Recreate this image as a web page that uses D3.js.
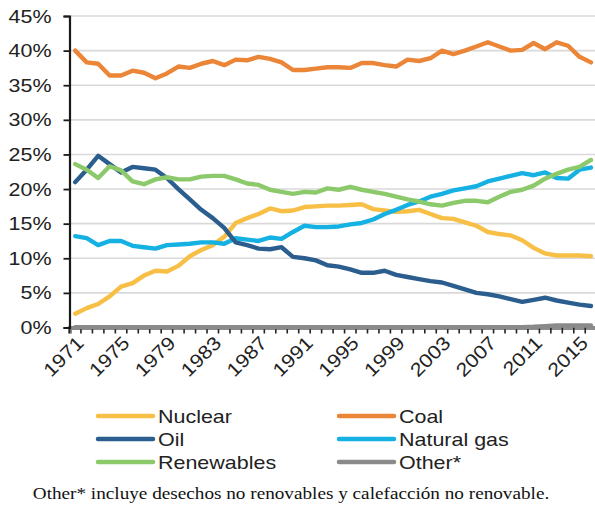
<!DOCTYPE html>
<html><head><meta charset="utf-8">
<script src="https://cdn.jsdelivr.net/npm/d3@7"></script>
<style>body{margin:0;background:#fff}svg{display:block}</style>
</head><body>
<svg id="c" width="595" height="505"></svg>
<script>
const years = [1971,1972,1973,1974,1975,1976,1977,1978,1979,1980,1981,1982,1983,1984,1985,1986,1987,1988,1989,1990,1991,1992,1993,1994,1995,1996,1997,1998,1999,2000,2001,2002,2003,2004,2005,2006,2007,2008,2009,2010,2011,2012,2013,2014,2015,2016];
const tickYears = [1971,1975,1979,1983,1987,1991,1995,1999,2003,2007,2011,2015];
const yTicks = [0,5,10,15,20,25,30,35,40,45];
const nuclear = [2.0,2.8,3.4,4.5,5.9,6.4,7.5,8.2,8.1,8.9,10.3,11.2,11.9,13.1,15.1,15.8,16.4,17.2,16.8,16.9,17.4,17.5,17.6,17.6,17.7,17.8,17.1,16.9,16.7,16.8,17.0,16.4,15.8,15.7,15.2,14.7,13.8,13.5,13.3,12.6,11.5,10.7,10.4,10.4,10.4,10.3];
const coal = [40.0,38.3,38.1,36.4,36.4,37.1,36.8,36.0,36.7,37.7,37.5,38.1,38.5,37.9,38.7,38.6,39.1,38.8,38.3,37.2,37.2,37.4,37.6,37.6,37.5,38.2,38.2,37.9,37.7,38.7,38.5,38.9,40.0,39.5,40.0,40.6,41.2,40.6,40.0,40.1,41.1,40.2,41.2,40.7,39.1,38.3];
const oil = [21.0,22.8,24.8,23.6,22.4,23.2,23.0,22.8,21.6,20.0,18.5,17.0,15.8,14.4,12.3,11.9,11.4,11.3,11.6,10.2,10.0,9.7,9.0,8.8,8.4,7.9,7.9,8.2,7.6,7.3,7.0,6.7,6.5,6.0,5.5,5.0,4.8,4.5,4.1,3.7,4.0,4.3,3.9,3.6,3.3,3.1];
const naturalGas = [13.2,12.9,11.9,12.5,12.5,11.8,11.6,11.4,11.9,12.0,12.1,12.3,12.3,12.1,12.9,12.7,12.5,13.0,12.8,13.8,14.7,14.5,14.5,14.6,14.9,15.1,15.6,16.4,17.0,17.7,18.2,18.9,19.3,19.8,20.1,20.4,21.1,21.5,21.9,22.3,22.0,22.4,21.6,21.5,22.8,23.1];
const renewables = [23.6,22.8,21.6,23.3,22.7,21.1,20.7,21.4,21.7,21.4,21.4,21.8,21.9,21.9,21.4,20.8,20.6,19.9,19.6,19.3,19.6,19.5,20.1,19.9,20.3,19.9,19.6,19.3,18.9,18.5,18.2,17.8,17.6,18.0,18.3,18.3,18.1,18.9,19.6,19.9,20.5,21.5,22.2,22.8,23.2,24.2];
const other = [0.05,0.05,0.05,0.05,0.05,0.05,0.05,0.05,0.05,0.05,0.05,0.05,0.05,0.05,0.05,0.05,0.05,0.05,0.05,0.05,0.05,0.05,0.05,0.05,0.05,0.05,0.05,0.05,0.05,0.05,0.05,0.05,0.05,0.05,0.05,0.05,0.05,0.05,0.05,0.05,0.1,0.2,0.3,0.3,0.3,0.3];
const seriesNames = ["Nuclear","Coal","Oil","Natural gas","Renewables","Other*"];
const seriesColors = ["#F7BF45","#EB8538","#2B5E8E","#14B1E2","#8CC96B","#8A8A8A"];
const seriesValues = [nuclear,coal,oil,naturalGas,renewables,other];
const footnote = "Other* incluye desechos no renovables y calefacción no renovable.";

const svg = d3.select("#c");
const mLeft = 69.5, mRight = 596.7, mTop = 16, mBottom = 327.5;
const sx = 1.13;
const x = d3.scaleBand().domain(years).range([mLeft, mRight]);
const cx = d => x(d) + x.bandwidth()/2;
const y = d3.scaleLinear().domain([0,45]).range([mBottom, mTop]);
const font = "Liberation Sans, Arial, sans-serif";

svg.append("g").selectAll("line").data(yTicks.filter(d=>d>0)).join("line")
  .attr("x1", mLeft).attr("x2", 595).attr("y1", d=>y(d)).attr("y2", d=>y(d))
  .attr("stroke", "#D9D9D9").attr("stroke-width", 1.6);

const xAxis = d3.axisBottom(x).tickSize(6).tickFormat("");
const gx = svg.append("g").attr("transform", `translate(0,${mBottom})`).call(xAxis);
gx.select(".domain").attr("stroke", "#8C8C8C").attr("stroke-width", 4);
gx.selectAll(".tick").attr("transform", d => `translate(${x(d)},0)`);
gx.selectAll(".tick line").attr("stroke", "#222").attr("stroke-width", 1.6);
svg.append("line").attr("x1", mRight).attr("x2", mRight).attr("y1", mBottom).attr("y2", mBottom+6).attr("stroke","#222").attr("stroke-width",1.6);

svg.append("g").selectAll("text").data(tickYears).join("text")
  .attr("transform", d => `translate(${cx(d)+5},${mBottom+12}) rotate(-45) scale(${sx},1)`)
  .attr("text-anchor", "end").attr("dy", "0.35em")
  .attr("font-family", font).attr("font-size", 19).attr("fill", "#222")
  .text(d => d);

const line = d3.line().x((d,i) => cx(years[i])).y(d => y(d));
const order = [5,1,0,3,2,4];
svg.append("g").selectAll("path").data(order).join("path")
  .attr("d", k => line(seriesValues[k]))
  .attr("fill", "none").attr("stroke", k => seriesColors[k])
  .attr("stroke-width", 4.4).attr("stroke-linejoin", "round").attr("stroke-linecap", "round");

const yAxis = d3.axisLeft(y).tickValues(yTicks).tickSize(6).tickFormat(d => d + "%");
const gy = svg.append("g").attr("transform", `translate(${mLeft},0)`).call(yAxis);
gy.select(".domain").attr("stroke", "#1a1a1a").attr("stroke-width", 2.2);
gy.selectAll(".tick line").attr("stroke", "#1a1a1a").attr("stroke-width", 1.8);
gy.selectAll(".tick text").attr("font-family", font).attr("font-size", 19).attr("fill", "#222")
  .attr("x", 0).attr("transform", `translate(-18,0) scale(${sx},1)`);

const legX = [98, 339], legY = [416, 439, 462];
const leg = svg.append("g").selectAll("g").data(seriesNames).join("g")
  .attr("transform", (d,i) => `translate(${legX[i%2]},${legY[Math.floor(i/2)]})`);
leg.append("line").attr("x1", 0).attr("x2", 55).attr("stroke", (d,i)=>seriesColors[i])
  .attr("stroke-width", 4.5).attr("stroke-linecap", "round");
leg.append("text").attr("transform", `translate(60,0) scale(${sx},1)`).attr("dy", "0.35em").attr("font-family", font)
  .attr("font-size", 19).attr("fill", "#222").text(d => d);

svg.append("text").attr("transform", `translate(291,499) scale(${sx},1)`).attr("text-anchor", "middle")
  .attr("font-family", "Liberation Serif, Times New Roman, serif").attr("font-size", 17)
  .attr("fill", "#111").text(footnote);
</script>
</body></html>
